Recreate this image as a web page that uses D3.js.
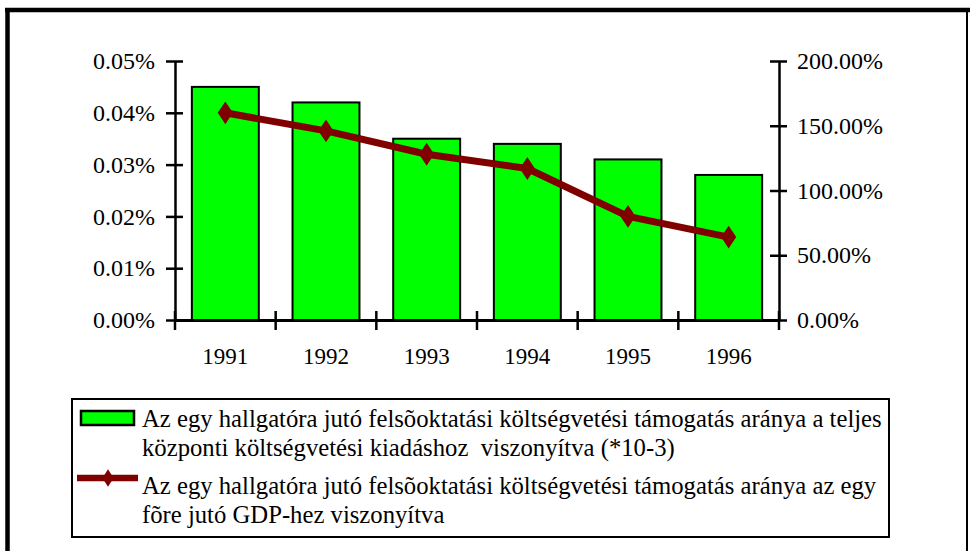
<!DOCTYPE html>
<html lang="hu">
<head>
<meta charset="UTF-8">
<title></title>
<style>
    body { margin: 0; background: #fff; }
    svg text { font-family: "Liberation Serif", "Times New Roman", serif; fill: #000; }
</style>
</head>
<body>
<svg id="chart" width="970" height="551"></svg>
<script src="https://cdnjs.cloudflare.com/ajax/libs/d3/7.8.5/d3.min.js"></script>
<script>
    var years = ["1991", "1992", "1993", "1994", "1995", "1996"];
    // share of central budget expenditure (left axis)
    var budgetShare = [0.00045, 0.00042, 0.00035, 0.00034, 0.00031, 0.00028];
    // share of per capita GDP (right axis)
    var gdpShare = [1.60, 1.46, 1.28, 1.17, 0.80, 0.64];
    var leftTicks = [0, 0.0001, 0.0002, 0.0003, 0.0004, 0.0005];
    var rightTicks = [0, 0.5, 1.0, 1.5, 2.0];
    var legendBar = ["Az egy hallgatóra jutó felsõoktatási költségvetési támogatás aránya a teljes",
                     "központi költségvetési kiadáshoz  viszonyítva (*10-3)"];
    var legendLine = ["Az egy hallgatóra jutó felsõoktatási költségvetési támogatás aránya az egy",
                      "fõre jutó GDP-hez viszonyítva"];

    var svg = d3.select("#chart");
    var plotLeft = 175, plotRight = 779, plotTop = 61, plotBottom = 320;

    // outer frame
    svg.append("line").attr("x1", 5).attr("x2", 970).attr("y1", 10).attr("y2", 10)
        .attr("stroke", "#000").attr("stroke-width", 4.5);
    svg.append("line").attr("x1", 7.5).attr("x2", 7.5).attr("y1", 8).attr("y2", 551)
        .attr("stroke", "#000").attr("stroke-width", 4.5);
    svg.append("line").attr("x1", 967).attr("x2", 967).attr("y1", 8).attr("y2", 551)
        .attr("stroke", "#000").attr("stroke-width", 2);

    var x = d3.scaleBand().domain(years).range([plotLeft, plotRight]).paddingInner(0.335).paddingOuter(0.1675);
    var xTicks = d3.scaleBand().domain(years).range([plotLeft, plotRight]);
    var yL = d3.scaleLinear().domain([0, 0.0005]).range([plotBottom, plotTop]);
    var yR = d3.scaleLinear().domain([0, 2]).range([plotBottom, plotTop]);

    // bars
    svg.append("g").selectAll("rect").data(budgetShare).enter().append("rect")
        .attr("x", function(d, i) { return x(years[i]); })
        .attr("y", function(d) { return yL(d); })
        .attr("width", x.bandwidth())
        .attr("height", function(d) { return yL(0) - yL(d); })
        .attr("fill", "#00ff00")
        .attr("stroke", "#000")
        .attr("stroke-width", 2);

    function styleAxis(g) {
        g.select(".domain").attr("stroke-width", 2.5);
        g.selectAll(".tick line").attr("stroke-width", 2.5);
        g.selectAll(".tick text").style("font-family", "Liberation Serif").attr("fill", "#000");
    }

    // left axis
    var gl = svg.append("g").attr("transform", "translate(" + plotLeft + ",0)")
        .call(d3.axisLeft(yL).tickValues(leftTicks).tickFormat(d3.format(".2%")).tickSize(9).tickSizeOuter(0));
    styleAxis(gl);
    gl.selectAll(".tick text").attr("font-size", 24).attr("x", -20);
    gl.selectAll(".tick").append("line").attr("x2", 8).attr("stroke", "#000").attr("stroke-width", 2.5);

    // right axis
    var gr = svg.append("g").attr("transform", "translate(" + plotRight + ",0)")
        .call(d3.axisRight(yR).tickValues(rightTicks).tickFormat(d3.format(".2%")).tickSize(8).tickSizeOuter(0));
    styleAxis(gr);
    gr.selectAll(".tick text").attr("font-size", 24).attr("x", 18);
    gr.selectAll(".tick").append("line").attr("x2", -9).attr("stroke", "#000").attr("stroke-width", 2.5);

    // bottom axis
    var gb = svg.append("g").attr("transform", "translate(0," + plotBottom + ")")
        .call(d3.axisBottom(x).tickSize(0).tickSizeOuter(0));
    styleAxis(gb);
    gb.select(".domain").attr("stroke-width", 3);
    gb.selectAll(".tick text").attr("font-size", 23).attr("y", 28);
    var boundaries = years.map(function(d) { return xTicks(d); }).concat([plotRight]);
    gb.selectAll(".sep").data(boundaries).enter().append("line")
        .attr("class", "sep")
        .attr("x1", function(d) { return d; }).attr("x2", function(d) { return d; })
        .attr("y1", -9).attr("y2", 10)
        .attr("stroke", "#000").attr("stroke-width", 2.5);

    // line series
    var line = d3.line()
        .x(function(d, i) { return x(years[i]) + x.bandwidth() / 2; })
        .y(function(d) { return yR(d); });
    svg.append("path").datum(gdpShare)
        .attr("d", line)
        .attr("fill", "none")
        .attr("stroke", "#800000")
        .attr("stroke-width", 7)
        .attr("stroke-linejoin", "round");
    var diamond = d3.symbol().type(d3.symbolDiamond).size(150);
    svg.append("g").selectAll("path").data(gdpShare).enter().append("path")
        .attr("d", diamond)
        .attr("transform", function(d, i) {
            return "translate(" + (x(years[i]) + x.bandwidth() / 2) + "," + yR(d) + ") scale(1.15,1)";
        })
        .attr("fill", "#800000");

    // legend
    var lg = svg.append("g");
    lg.append("rect").attr("x", 72).attr("y", 399).attr("width", 817).attr("height", 138)
        .attr("fill", "#fff").attr("stroke", "#000").attr("stroke-width", 2);
    lg.append("rect").attr("x", 81).attr("y", 411).attr("width", 53).attr("height", 14)
        .attr("fill", "#00ff00").attr("stroke", "#000").attr("stroke-width", 2.5);
    lg.append("line").attr("x1", 77).attr("x2", 138).attr("y1", 478).attr("y2", 478)
        .attr("stroke", "#800000").attr("stroke-width", 6.5);
    lg.append("path").attr("d", d3.symbol().type(d3.symbolDiamond).size(90))
        .attr("transform", "translate(108,478) scale(1.1,1)")
        .attr("fill", "#800000");

    var lines = legendBar.concat(legendLine);
    var baselines = [427, 456, 494, 523];
    lg.selectAll("text.lab").data(lines).enter().append("text")
        .attr("class", "lab")
        .attr("x", 142)
        .attr("y", function(d, i) { return baselines[i]; })
        .attr("font-size", 24.7)
        .style("white-space", "pre")
        .text(function(d) { return d; });
</script>
</body>
</html>
